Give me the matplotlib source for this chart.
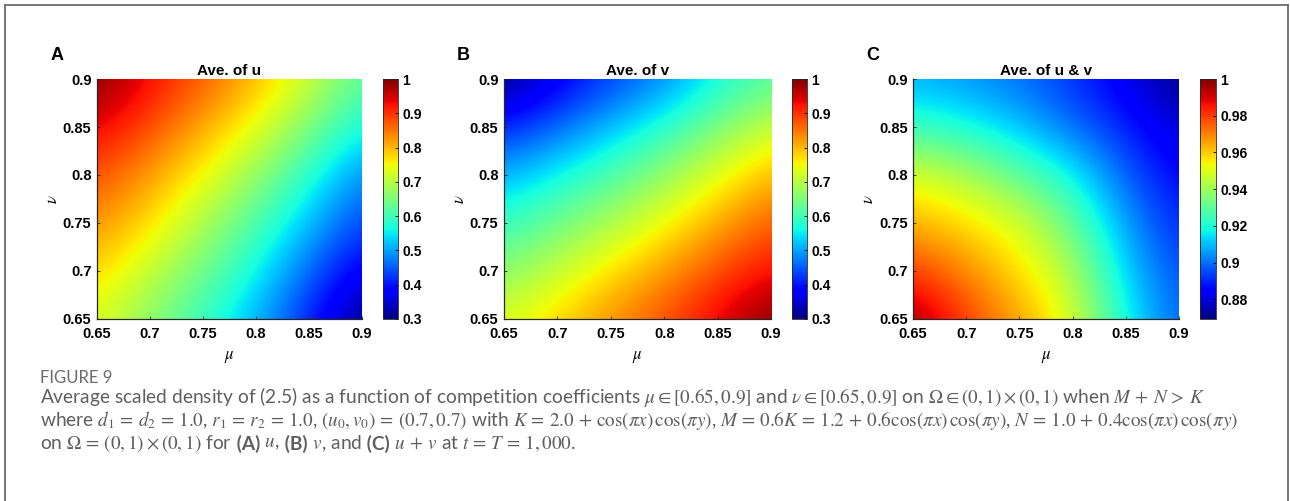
import matplotlib
matplotlib.use("Agg")
import matplotlib.pyplot as plt
import numpy as np
from matplotlib.lines import Line2D
from matplotlib.ticker import FuncFormatter

plt.rcParams["mathtext.fontset"] = "stix"

# competition coefficients on both axes
MU = [0.65, 0.70, 0.75, 0.80, 0.85, 0.90]
NU = [0.65, 0.70, 0.75, 0.80, 0.85, 0.90]

# rows: nu = 0.65 ... 0.9, columns: mu = 0.65 ... 0.9
AVE_U = [
    [0.73, 0.66, 0.59, 0.51, 0.41, 0.30],
    [0.78, 0.71, 0.64, 0.56, 0.46, 0.37],
    [0.83, 0.77, 0.69, 0.61, 0.52, 0.43],
    [0.88, 0.82, 0.75, 0.67, 0.58, 0.48],
    [0.94, 0.88, 0.81, 0.74, 0.65, 0.56],
    [1.00, 0.93, 0.87, 0.80, 0.72, 0.62],
]

AVE_V = [
    [0.73, 0.78, 0.83, 0.88, 0.94, 1.00],
    [0.66, 0.71, 0.77, 0.82, 0.88, 0.93],
    [0.59, 0.64, 0.69, 0.75, 0.81, 0.87],
    [0.51, 0.56, 0.61, 0.67, 0.74, 0.80],
    [0.41, 0.46, 0.52, 0.58, 0.65, 0.72],
    [0.30, 0.37, 0.43, 0.48, 0.56, 0.62],
]

AVE_UV = [
    [0.998, 0.980, 0.966, 0.950, 0.918, 0.898],
    [0.980, 0.969, 0.957, 0.943, 0.912, 0.895],
    [0.964, 0.957, 0.950, 0.931, 0.906, 0.890],
    [0.950, 0.943, 0.930, 0.918, 0.898, 0.885],
    [0.924, 0.919, 0.911, 0.900, 0.890, 0.879],
    [0.908, 0.905, 0.900, 0.892, 0.882, 0.870],
]

TICKS = [0.65, 0.7, 0.75, 0.8, 0.85, 0.9]
CBAR_TICKS_UV = [0.88, 0.9, 0.92, 0.94, 0.96, 0.98, 1.0]
CBAR_TICKS_U = [0.3, 0.4, 0.5, 0.6, 0.7, 0.8, 0.9, 1.0]

PANELS = [
    # label, title, data, vmin, vmax, cbar ticks, axes rect, cbar rect
    ("A", "Ave. of u", AVE_U, 0.3, 1.0, CBAR_TICKS_U,
     [0.0752, 0.3633, 0.2054, 0.479], [0.2969, 0.3633, 0.0116, 0.479]),
    ("B", "Ave. of v", AVE_V, 0.3, 1.0, CBAR_TICKS_U,
     [0.3907, 0.3633, 0.2070, 0.479], [0.6140, 0.3633, 0.0116, 0.479]),
    ("C", "Ave. of u & v", AVE_UV, 0.8693, 1.0, CBAR_TICKS_UV,
     [0.7078, 0.3633, 0.2062, 0.479], [0.9302, 0.3633, 0.0124, 0.479]),
]

TICK_FONT = dict(family="Liberation Sans", weight="bold", size=10.5)
CAPTION_COLOR = "#5f5f5f"

fmt = FuncFormatter(lambda v, pos: f"{v:g}")


def draw_panel(fig, label, title, data, vmin, vmax, cticks, rect, crect):
    """One heat map with its own colorbar."""

    ax = fig.add_axes(rect)
    cax = fig.add_axes(crect)

    step = (MU[1] - MU[0]) / 2
    im = ax.imshow(
        np.array(data),
        origin="lower",
        extent=[MU[0] - step, MU[-1] + step, NU[0] - step, NU[-1] + step],
        aspect="auto",
        cmap="jet",
        vmin=vmin,
        vmax=vmax,
        interpolation="bicubic",
    )

    ax.set_xlim(MU[0], MU[-1])
    ax.set_ylim(NU[0], NU[-1])
    ax.set_xticks(TICKS)
    ax.set_yticks(TICKS)
    ax.xaxis.set_major_formatter(fmt)
    ax.yaxis.set_major_formatter(fmt)

    for lab in ax.get_xticklabels() + ax.get_yticklabels():
        lab.set_fontproperties(TICK_FONT)

    ax.tick_params(direction="in", length=2, width=0.6,
                   colors="#262626", labelcolor="black")
    ax.tick_params(axis="x", pad=6)
    ax.tick_params(axis="y", pad=4)

    for side in ["top", "right"]:
        ax.spines[side].set_visible(False)
    for side in ["left", "bottom"]:
        ax.spines[side].set_color("#262626")
        ax.spines[side].set_linewidth(0.9)

    ax.set_xlabel(r"$\mu$", fontsize=12, labelpad=4)
    ax.set_ylabel(r"$\nu$", fontsize=12, labelpad=1)

    ax.set_title(title, fontsize=11, fontweight="bold",
                 family="Liberation Sans", pad=3)

    # panel letter
    ax.text(-0.151, 1.10, label, transform=ax.transAxes,
            fontsize=13, fontweight="bold", family="Liberation Sans",
            ha="center", va="center")

    cb = fig.colorbar(im, cax=cax, ticks=cticks)
    cb.outline.set_linewidth(0.6)
    cb.outline.set_edgecolor("#262626")
    cax.yaxis.set_major_formatter(fmt)
    cax.tick_params(direction="in", length=2, width=0.6, pad=3)
    for lab in cax.get_yticklabels():
        lab.set_fontproperties(dict(family="Liberation Sans",
                                    weight="bold", size=10))


def draw_runs(fig, renderer, x, y, runs, size):
    """Write pieces of text one after another on one line."""

    for text, weight in runs:
        t = fig.text(x, y, text, fontsize=size, color=CAPTION_COLOR,
                     family="Lato", fontweight=weight, va="center")
        bb = t.get_window_extent(renderer=renderer)
        x += bb.width / fig.bbox.width


def draw_caption(fig):

    renderer = fig.canvas.get_renderer()
    x0 = 40 / 1290
    size = 13.8

    fig.text(x0, 1 - 378 / 501, "FIGURE 9", fontsize=12,
             color="#6a6a6a", family="Lato", va="center")

    line1 = (r"Average scaled density of (2.5) as a function of competition "
             r"coefficients $\mu \in [0.65, 0.9]$ and $\nu \in [0.65, 0.9]$ "
             r"on $\Omega \in (0,1) \times (0,1)$ when $M \,+\, N \,>\, K$")
    line2 = (r"where $d_1 \,=\, d_2 \,=\, 1.0$, $r_1 \,=\, r_2 \,=\, 1.0$, "
             r"$(u_0,v_0) \,=\, (0.7,0.7)$ with "
             r"$K \,=\, 2.0 \,+\, \cos(\pi x)\,\cos(\pi y)$, "
             r"$M \,=\, 0.6K \,=\, 1.2 \,+\, 0.6\cos(\pi x)\,\cos(\pi y)$, "
             r"$N \,=\, 1.0 \,+\, 0.4\cos(\pi x)\,\cos(\pi y)$")

    fig.text(x0, 1 - 397 / 501, line1, fontsize=size,
             color=CAPTION_COLOR, family="Lato", va="center")
    fig.text(x0, 1 - 421 / 501, line2, fontsize=size,
             color=CAPTION_COLOR, family="Lato", va="center")

    # leading spaces are kept, trailing ones are not measured
    runs = [
        (r"on $\Omega \,=\, (0,1) \times (0,1)$ for", "normal"),
        (" (A)", "bold"),
        (r" $u$,", "normal"),
        (" (B)", "bold"),
        (r" $v$, and", "normal"),
        (" (C)", "bold"),
        (r" $u \,+\, v$ at $t \,=\, T \,=\, 1,000$.", "normal"),
    ]
    draw_runs(fig, renderer, x0, 1 - 444 / 501, runs, size)


def draw_border(fig):
    """Grey frame around the figure, open at the bottom."""

    left = 4.5 / 1290
    right = 1288 / 1290
    top = 1 - 5 / 501
    kw = dict(color="#6b6b6b", linewidth=1.3, transform=fig.transFigure)
    fig.add_artist(Line2D([left, left], [0, top], **kw))
    fig.add_artist(Line2D([left, right], [top, top], **kw))
    fig.add_artist(Line2D([right, right], [0, top], **kw))


fig = plt.figure(figsize=(12.9, 5.01), dpi=100)

for panel in PANELS:
    draw_panel(fig, *panel)

draw_caption(fig)
draw_border(fig)

fig.savefig("out.png", dpi=100)
plt.close(fig)
